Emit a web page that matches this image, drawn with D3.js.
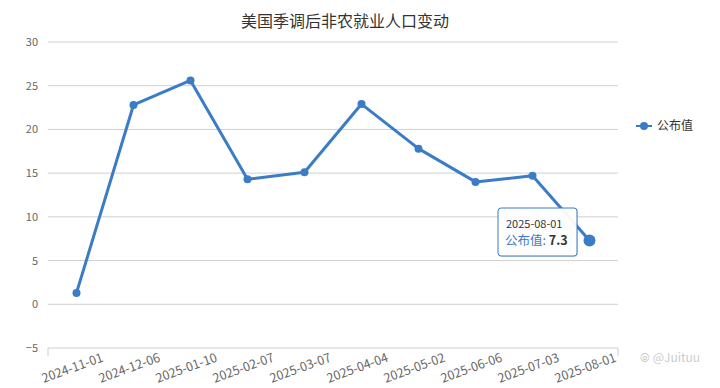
<!DOCTYPE html>
<html lang="zh">
<head>
  <meta charset="UTF-8">
  <title>美国季调后非农就业人口变动</title>
  <script src="https://d3js.org/d3.v7.min.js"></script>
  <style>
    body { margin: 0; background: #fff; }
    text { font-family: "Noto Sans CJK SC", "Open Sans", sans-serif; }
    .grid line { stroke: #d0d0d0; stroke-width: 1px; }
    .ylab { font-size: 11px; fill: #666; }
    .xlab { font-size: 12.5px; fill: #666; }
  </style>
</head>
<body>
  <div id="chart"></div>
  <script>
    // 数据
    const dates = ["2024-11-01", "2024-12-06", "2025-01-10", "2025-02-07", "2025-03-07",
                   "2025-04-04", "2025-05-02", "2025-06-06", "2025-07-03", "2025-08-01"];
    const values = [1.3, 22.8, 25.6, 14.3, 15.1, 22.9, 17.8, 14.0, 14.7, 7.3];
    const yTicks = [-5, 0, 5, 10, 15, 20, 25, 30];

    const width = 720, height = 388;
    const plotL = 48, plotR = 618, plotT = 42, plotB = 348;
    const blue = "#3a7cc6";

    const svg = d3.select("#chart").append("svg")
      .attr("width", width)
      .attr("height", height);

    const x = d3.scaleBand().domain(dates).range([plotL, plotR]);
    const y = d3.scaleLinear().domain([-5, 30]).range([plotB, plotT]);

    // 标题
    svg.append("text")
      .attr("x", 345).attr("y", 27)
      .attr("text-anchor", "middle")
      .style("font-size", "16px")
      .style("fill", "#333")
      .text("美国季调后非农就业人口变动");

    // 网格线
    const grid = svg.append("g").attr("class", "grid");
    grid.selectAll("line").data(yTicks).enter().append("line")
      .attr("x1", plotL).attr("x2", plotR)
      .attr("y1", d => y(d)).attr("y2", d => y(d));

    svg.selectAll(".ylab").data(yTicks).enter().append("text")
      .attr("class", "ylab")
      .attr("x", 38).attr("y", d => y(d) + 4)
      .attr("text-anchor", "end")
      .text(d => d === -5 ? "−5" : d);

    // x 轴端点刻度
    svg.selectAll(".xtick").data([plotL, plotR]).enter().append("line")
      .attr("x1", d => d).attr("x2", d => d)
      .attr("y1", plotB).attr("y2", plotB + 8)
      .attr("stroke", "#ccc");

    // x 轴标签
    svg.selectAll(".xlab").data(dates).enter().append("text")
      .attr("class", "xlab")
      .attr("text-anchor", "end")
      .attr("transform", d => `translate(${x(d) + x.bandwidth() - 1},${plotB + 13}) rotate(-20)`)
      .text(d => d);

    // 折线
    const line = d3.line()
      .x(d => x(d.date) + x.bandwidth() / 2)
      .y(d => y(d.value));
    const pts = dates.map((d, i) => ({ date: d, value: values[i] }));

    svg.append("path")
      .datum(pts)
      .attr("d", line)
      .attr("fill", "none")
      .attr("stroke", blue)
      .attr("stroke-width", 3)
      .attr("stroke-linejoin", "round");

    svg.selectAll(".pt").data(pts).enter().append("circle")
      .attr("cx", d => x(d.date) + x.bandwidth() / 2)
      .attr("cy", d => y(d.value))
      .attr("r", (d, i) => i === pts.length - 1 ? 6 : 4)
      .attr("fill", blue);

    // 提示框
    const last = pts[pts.length - 1];
    const tx = 498, ty = 208;
    const tip = svg.append("g");
    tip.append("rect")
      .attr("x", tx + 1).attr("y", ty + 1)
      .attr("width", 79).attr("height", 48).attr("rx", 3)
      .attr("fill", "rgba(0,0,0,0.12)");
    tip.append("rect")
      .attr("x", tx).attr("y", ty)
      .attr("width", 79).attr("height", 48).attr("rx", 3)
      .attr("fill", "rgba(255,255,255,0.95)")
      .attr("stroke", blue).attr("stroke-width", 1);
    tip.append("text")
      .attr("x", tx + 8).attr("y", ty + 20)
      .style("font-size", "11px").style("fill", "#333")
      .text(last.date);
    const t2 = tip.append("text")
      .attr("x", tx + 7).attr("y", ty + 37)
      .style("font-size", "12.5px");
    t2.append("tspan").style("fill", blue).text("公布值: ");
    t2.append("tspan").style("fill", "#333").style("font-weight", "bold").text(last.value);

    // 图例
    svg.append("line")
      .attr("x1", 636).attr("x2", 652).attr("y1", 126).attr("y2", 126)
      .attr("stroke", blue).attr("stroke-width", 2);
    svg.append("circle").attr("cx", 644).attr("cy", 126).attr("r", 4).attr("fill", blue);
    svg.append("text")
      .attr("x", 657).attr("y", 130)
      .style("font-size", "12px").style("fill", "#333")
      .text("公布值");

    // 水印
    svg.append("text")
      .attr("x", 640).attr("y", 362)
      .style("font-size", "12px").style("fill", "#ccc")
      .text("⦾ @Juituu");
  </script>
</body>
</html>
